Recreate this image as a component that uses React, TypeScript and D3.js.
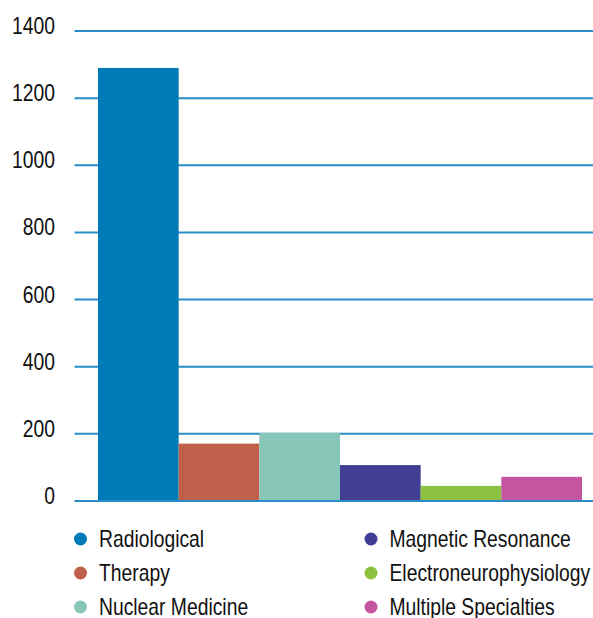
import React, { useEffect, useRef } from "react";
import * as d3 from "d3";

const categories = [
  "Radiological",
  "Therapy",
  "Nuclear Medicine",
  "Magnetic Resonance",
  "Electroneurophysiology",
  "Multiple Specialties",
];
const values = [1290, 171, 203, 107, 45, 72];
const colors = ["#007bb8", "#c0604a", "#88c7b7", "#413f94", "#8bc13e", "#c4559e"];
const yTicks = [0, 200, 400, 600, 800, 1000, 1200, 1400];

const W = 593;
const H = 618;
const FONT = "'Liberation Sans', Arial, sans-serif";
const SQUEEZE = 0.84; // no narrow font available, so condense by hand

export default function App() {
  const ref = useRef<SVGSVGElement>(null);

  useEffect(() => {
    const svg = d3.select(ref.current);
    svg.selectAll("*").remove();

    const y = d3.scaleLinear().domain([0, 1400]).range([501, 31]);
    const x = d3.scaleBand<string>().domain(categories).range([98, 582]).paddingInner(0);

    // grid
    svg
      .append("g")
      .selectAll("line")
      .data(yTicks.filter((t) => t !== 0))
      .join("line")
      .attr("x1", 74.5)
      .attr("x2", W)
      .attr("y1", (d) => y(d))
      .attr("y2", (d) => y(d))
      .attr("stroke", "#2a8cc9")
      .attr("stroke-width", 2);

    svg
      .append("g")
      .selectAll("rect")
      .data(values)
      .join("rect")
      .attr("x", (d, i) => x(categories[i])!)
      .attr("width", x.bandwidth())
      .attr("y", (d) => y(d))
      .attr("height", (d) => y(0) - y(d))
      .attr("fill", (d, i) => colors[i]);

    // baseline on top
    svg
      .append("line")
      .attr("x1", 74.5)
      .attr("x2", W)
      .attr("y1", y(0))
      .attr("y2", y(0))
      .attr("stroke", "#2a8cc9")
      .attr("stroke-width", 2);

    svg
      .append("g")
      .selectAll("text")
      .data(yTicks)
      .join("text")
      .attr("transform", (d) => `translate(55,${y(d) + 3}) scale(${SQUEEZE},1)`)
      .attr("text-anchor", "end")
      .attr("font-family", FONT)
      .attr("font-size", 23)
      .attr("fill", "#111")
      .text((d) => d);

    // legend
    const leg = svg
      .append("g")
      .selectAll("g")
      .data(categories)
      .join("g")
      .attr("transform", (d, i) => `translate(${i < 3 ? 80.5 : 371},${539 + (i % 3) * 34})`);
    leg.append("circle").attr("r", 6.5).attr("fill", (d, i) => colors[i]);
    leg
      .append("text")
      .attr("transform", `translate(18.5,0) scale(${SQUEEZE},1)`)
      .attr("dy", "0.36em")
      .attr("font-family", FONT)
      .attr("font-size", 23)
      .attr("fill", "#111")
      .text((d) => d);
  }, []);

  return <svg ref={ref} width={W} height={H} style={{ position: "absolute", left: 0, top: 0 }} />;
}
